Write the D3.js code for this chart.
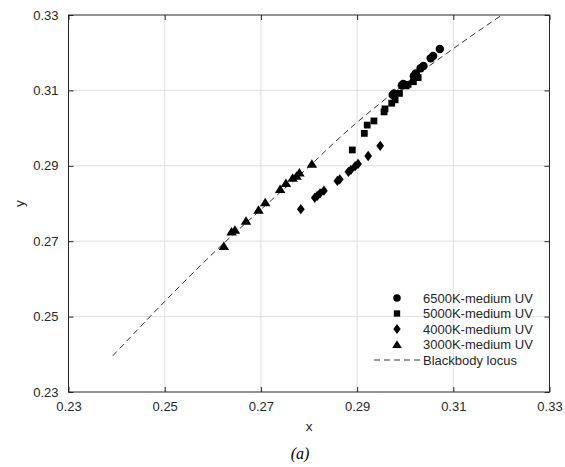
<!DOCTYPE html>
<html>
<head>
<meta charset="utf-8">
<script src="https://cdn.jsdelivr.net/npm/d3@7"></script>
<style>
  body { margin: 0; background: #fff; }
  text { font-family: "Liberation Sans", Arial, sans-serif; fill: #262626; }
</style>
</head>
<body>
<svg width="565" height="467"></svg>
<script>
// chromaticity points
cct6500 = [[0.3072,0.3210],[0.3058,0.3191],[0.3053,0.3185],[0.3038,0.3165],[0.3032,0.3159],
           [0.3022,0.3145],[0.3018,0.3138],[0.2996,0.3117],[0.2993,0.3113],[0.2977,0.3092],[0.2974,0.3088]];
cct5000 = [[0.2890,0.2942],[0.2915,0.2986],[0.2921,0.3008],[0.2935,0.3019],[0.2956,0.3043],
           [0.2958,0.3051],[0.2972,0.3066],[0.2979,0.3075],[0.2988,0.3092],[0.3002,0.3112],
           [0.3006,0.3116],[0.3017,0.3123],[0.3027,0.3134]];
cct4000 = [[0.2783,0.2785],[0.2812,0.2815],[0.2817,0.2820],[0.2823,0.2827],[0.2831,0.2834],
           [0.2859,0.2860],[0.2864,0.2864],[0.2882,0.2884],[0.2887,0.2889],[0.2896,0.2899],
           [0.2902,0.2905],[0.2923,0.2926],[0.2948,0.2953]];
cct3000 = [[0.2623,0.2687],[0.2639,0.2725],[0.2646,0.2730],[0.2669,0.2754],[0.2695,0.2783],
           [0.2709,0.2803],[0.2740,0.2838],[0.2752,0.2854],[0.2766,0.2868],[0.2774,0.2873],
           [0.2780,0.2882],[0.2806,0.2905]];
blackbody = [[0.2392,0.2396],[0.2500,0.2540],[0.2608,0.2677],[0.2700,0.2784],[0.2806,0.2905],
             [0.2858,0.2968],[0.2948,0.3066],[0.3086,0.3198],[0.3201,0.3300]];

seriesNames = ["6500K-medium UV", "5000K-medium UV", "4000K-medium UV", "3000K-medium UV"];
ticks = [0.23, 0.25, 0.27, 0.29, 0.31, 0.33];

svg = d3.select("svg");
left = 68.5; right = 549.5; top_ = 15; bottom = 392;

xScale = d3.scaleLinear().domain([0.23, 0.33]).range([left, right]);
yScale = d3.scaleLinear().domain([0.23, 0.33]).range([bottom, top_]);

// diamond a bit fatter than d3's own
diamond = {
  draw: function (ctx, size) {
    var h = Math.sqrt(size / 1.5) , w = h * 0.75;
    ctx.moveTo(0, -h); ctx.lineTo(w, 0); ctx.lineTo(0, h); ctx.lineTo(-w, 0); ctx.closePath();
  }
};
triangle = {
  draw: function (ctx, size) {
    var s = Math.sqrt(size);
    ctx.moveTo(0, -s * 0.55); ctx.lineTo(s * 0.62, s * 0.45); ctx.lineTo(-s * 0.62, s * 0.45); ctx.closePath();
  }
};
symbols = [d3.symbol(d3.symbolCircle, 56), d3.symbol(d3.symbolSquare, 46),
           d3.symbol(diamond, 40), d3.symbol(triangle, 72)];

// grid
svg.append("g").selectAll("line").data(ticks.slice(1, -1)).join("line")
  .attr("x1", d => xScale(d)).attr("x2", d => xScale(d))
  .attr("y1", top_).attr("y2", bottom)
  .attr("stroke", "#dfdfdf").attr("stroke-width", 1);
svg.append("g").selectAll("line").data(ticks.slice(1, -1)).join("line")
  .attr("y1", d => yScale(d)).attr("y2", d => yScale(d))
  .attr("x1", left).attr("x2", right)
  .attr("stroke", "#dfdfdf").attr("stroke-width", 1);

clip = svg.append("clipPath").attr("id", "clip").append("rect")
  .attr("x", left).attr("y", top_).attr("width", right - left).attr("height", bottom - top_);

bbLine = d3.line()
  .x(d => xScale(d[0])).y(d => yScale(d[1]))
  .curve(d3.curveMonotoneX);

svg.append("path")
  .attr("d", bbLine(blackbody))
  .attr("clip-path", "url(#clip)")
  .attr("fill", "none").attr("stroke", "#333")
  .attr("stroke-width", 1).attr("stroke-dasharray", "6,4");

[cct6500, cct5000, cct4000, cct3000].forEach(function (data, i) {
  svg.append("g").selectAll("path").data(data).join("path")
    .attr("transform", d => "translate(" + xScale(d[0]) + "," + yScale(d[1]) + ")")
    .attr("d", symbols[i])
    .attr("fill", "#000");
});

// axes, ticks inward on all sides
xAxis = d3.axisBottom(xScale).tickValues(ticks).tickFormat(d3.format(".2f"))
  .tickSizeInner(-5).tickSizeOuter(0).tickPadding(10);
yAxis = d3.axisLeft(yScale).tickValues(ticks).tickFormat(d3.format(".2f"))
  .tickSizeInner(-5).tickSizeOuter(0).tickPadding(10);

gx = svg.append("g").attr("transform", "translate(0," + bottom + ")").call(xAxis);
gy = svg.append("g").attr("transform", "translate(" + left + ",0)").call(yAxis);
gxTop = svg.append("g").attr("transform", "translate(0," + top_ + ")")
  .call(d3.axisTop(xScale).tickValues(ticks).tickSizeInner(-5).tickSizeOuter(0).tickFormat(""));
gyRight = svg.append("g").attr("transform", "translate(" + right + ",0)")
  .call(d3.axisRight(yScale).tickValues(ticks).tickSizeInner(-5).tickSizeOuter(0).tickFormat(""));

[gx, gy, gxTop, gyRight].forEach(function (g) {
  g.select(".domain").remove();
  g.selectAll("line").attr("stroke", "#262626");
  g.selectAll("text").attr("font-size", 13).attr("fill", "#262626")
    .attr("font-family", "'Liberation Sans', Arial, sans-serif");
});

svg.append("rect")
  .attr("x", left).attr("y", top_).attr("width", right - left).attr("height", bottom - top_)
  .attr("fill", "none").attr("stroke", "#262626").attr("stroke-width", 1);

svg.append("text").attr("x", (left + right) / 2).attr("y", 431)
  .attr("text-anchor", "middle").attr("font-size", 13.5).text("x");
svg.append("text").attr("transform", "translate(24," + (top_ + bottom) / 2 + ") rotate(-90)")
  .attr("text-anchor", "middle").attr("font-size", 13.5).text("y");
svg.append("text").attr("x", 300).attr("y", 459)
  .attr("text-anchor", "middle").attr("font-size", 16)
  .style("font-family", "'Liberation Serif', 'Times New Roman', serif")
  .style("font-style", "italic").style("fill", "#000").text("(a)");

// legend
legend = svg.append("g");
legendRows = d3.range(5).map(i => 298 + i * 15.5);
seriesNames.forEach(function (name, i) {
  legend.append("path")
    .attr("transform", "translate(397," + legendRows[i] + ")")
    .attr("d", d3.symbol([d3.symbolCircle, d3.symbolSquare, diamond, triangle][i], [44, 40, 36, 60][i]))
    .attr("fill", "#000");
  legend.append("text").attr("x", 423).attr("y", legendRows[i]).attr("dy", "0.36em")
    .attr("font-size", 13).text(name);
});
legend.append("line").attr("x1", 374).attr("x2", 420)
  .attr("y1", legendRows[4]).attr("y2", legendRows[4])
  .attr("stroke", "#333").attr("stroke-dasharray", "6,4");
legend.append("text").attr("x", 423).attr("y", legendRows[4]).attr("dy", "0.36em")
  .attr("font-size", 13).text("Blackbody locus");
</script>
</body>
</html>
